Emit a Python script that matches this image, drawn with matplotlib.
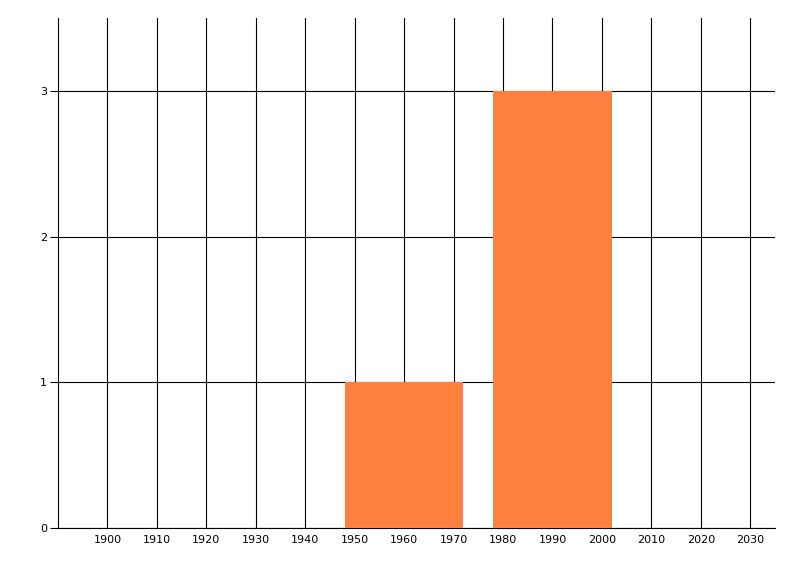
import matplotlib
matplotlib.use("Agg")
from matplotlib import pyplot as plt

decades = [1960, 1990]
counts = [1, 3]
bar_width = 24
year_ticks = list(range(1900, 2031, 10))
count_ticks = [0, 1, 2, 3]

fig = plt.figure(figsize=(8, 5.76), dpi=100)
ax = fig.add_axes([0.0725, 0.0833, 0.8962, 0.8854])

ax.bar(decades, counts, width=bar_width, color='#FF8040', zorder=3)

ax.set_xlim(1890, 2035)
ax.set_ylim(0, 3.5)
ax.set_xticks(year_ticks)
ax.set_xticklabels([str(y) for y in year_ticks], fontsize=8)
ax.set_yticks(count_ticks)
ax.set_yticklabels([str(c) for c in count_ticks], fontsize=8)
ax.tick_params(axis='x', length=0, pad=5)
ax.tick_params(axis='y', length=6, width=0.8, pad=2)

ax.grid(True, color='black', linewidth=0.8, zorder=0)
ax.set_axisbelow(True)
for side in ['top', 'right']:
    ax.spines[side].set_visible(False)
for side in ['left', 'bottom']:
    ax.spines[side].set_linewidth(0.8)

fig.savefig('out.png', dpi=100)
